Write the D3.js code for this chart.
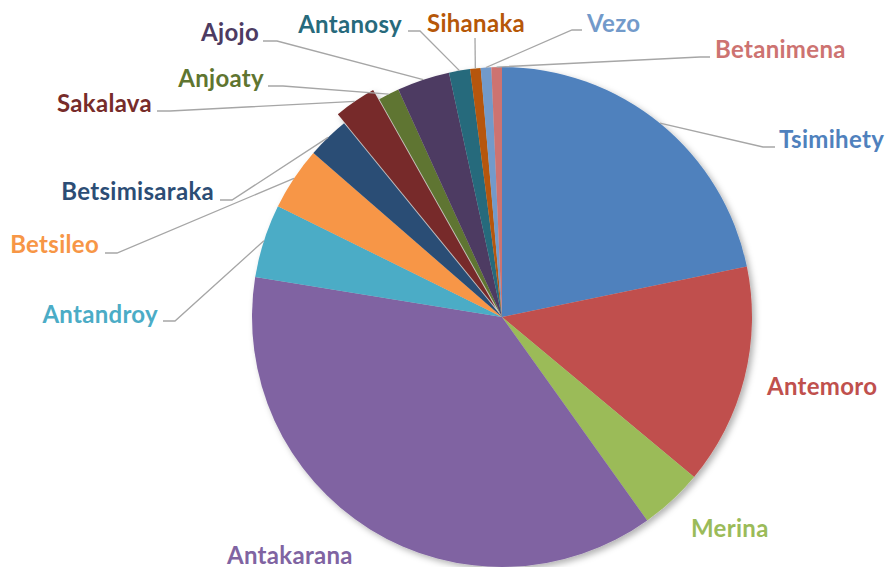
<!DOCTYPE html>
<html>
<head>
<meta charset="utf-8">
<script src="https://cdn.jsdelivr.net/npm/d3@7"></script>
<style>
  html, body { margin: 0; padding: 0; background: #fff; }
  svg { display: block; }
  .lbl { font-family: Lato, "Open Sans", sans-serif; font-weight: 700; font-size: 24px; letter-spacing: 0.3px; }
</style>
</head>
<body>
<div id="chart"></div>
<script>
// ethnic groups, clockwise from 12 o'clock
const categories = ["Tsimihety", "Antemoro", "Merina", "Antakarana", "Antandroy", "Betsileo",
  "Betsimisaraka", "Sakalava", "Anjoaty", "Ajojo", "Antanosy", "Sihanaka", "Vezo", "Betanimena"];
const values = [32, 21, 6, 55, 7, 6, 4, 4, 2, 5, 2, 1, 1, 1];
const colors = ["#4F81BD", "#C0504D", "#9BBB59", "#8064A2", "#4BACC6", "#F79646",
  "#2C4D75", "#772C2A", "#5F7530", "#4D3B62", "#276A7C", "#B65708", "#729ACA", "#CD7371"];
const exploded = ["Sakalava"];

// where Excel put each label (baseline) and the leader line elbow
const labelLayout = {
  Tsimihety:     { x: 779, y: 148, anchor: "start", elbow: [763, 147], end: 775 },
  Antemoro:      { x: 767, y: 395, anchor: "start" },
  Merina:        { x: 691, y: 537, anchor: "start" },
  Antakarana:    { x: 227, y: 564, anchor: "start" },
  Antandroy:     { x: 158, y: 323, anchor: "end", elbow: [175, 321], end: 163 },
  Betsileo:      { x: 99,  y: 253, anchor: "end", elbow: [117, 253], end: 105 },
  Betsimisaraka: { x: 214, y: 200, anchor: "end", elbow: [232, 200], end: 220 },
  Sakalava:      { x: 152, y: 112, anchor: "end", elbow: [170, 111], end: 157 },
  Anjoaty:       { x: 264, y: 87,  anchor: "end", elbow: [283, 86], end: 268 },
  Ajojo:         { x: 259, y: 41,  anchor: "end", elbow: [277, 41], end: 263 },
  Antanosy:      { x: 402, y: 33,  anchor: "end", elbow: [420, 31], end: 408 },
  Sihanaka:      { x: 476, y: 32,  anchor: "middle", elbow: [475, 38], end: 475 },
  Vezo:          { x: 587, y: 32,  anchor: "start", elbow: [572, 30], end: 582 },
  Betanimena:    { x: 715, y: 58,  anchor: "start", elbow: [700, 57], end: 710 }
};

var width = 889, height = 567;
var cx = 502, cy = 317, radius = 250, explode = 11;

var svg = d3.select("#chart")
  .append("svg")
    .attr("width", width)
    .attr("height", height);

var defs = svg.append("defs");
var shadow = defs.append("filter").attr("id", "shadow")
  .attr("x", "-10%").attr("y", "-10%").attr("width", "130%").attr("height", "130%");
shadow.append("feDropShadow")
  .attr("dx", 3).attr("dy", 3).attr("stdDeviation", 3)
  .attr("flood-color", "#000").attr("flood-opacity", 0.3);

var data = categories.map(function(c, i) { return { name: c, value: values[i], color: colors[i] }; });

var pie = d3.pie().sort(null).value(function(d) { return d.value; });
var arc = d3.arc().innerRadius(0).outerRadius(radius);
var arcs = pie(data);

function offset(d) {
  if (exploded.indexOf(d.data.name) < 0) return [0, 0];
  var a = (d.startAngle + d.endAngle) / 2;
  return [Math.sin(a) * explode, -Math.cos(a) * explode];
}

var g = svg.append("g")
  .attr("transform", "translate(" + cx + "," + cy + ")")
  .attr("filter", "url(#shadow)");

g.selectAll("path")
  .data(arcs)
  .enter()
  .append("path")
    .attr("d", arc)
    .attr("fill", function(d) { return d.data.color; })
    .attr("transform", function(d) { var o = offset(d); return "translate(" + o[0] + "," + o[1] + ")"; });

// leader lines
var lines = svg.append("g");
arcs.forEach(function(d) {
  var L = labelLayout[d.data.name];
  if (!L || !L.elbow) return;
  var a = (d.startAngle + d.endAngle) / 2;
  var o = offset(d);
  var p0 = [cx + o[0] + Math.sin(a) * radius, cy + o[1] - Math.cos(a) * radius];
  var pts = [p0, L.elbow, [L.end, L.elbow[1]]];
  lines.append("path")
    .attr("d", d3.line()(pts))
    .attr("fill", "none")
    .attr("stroke", "#A6A6A6")
    .attr("stroke-width", 1.3);
});

svg.append("g")
  .selectAll("text")
  .data(arcs)
  .enter()
  .append("text")
    .attr("class", "lbl")
    .attr("x", function(d) { return labelLayout[d.data.name].x; })
    .attr("y", function(d) { return labelLayout[d.data.name].y; })
    .attr("text-anchor", function(d) { return labelLayout[d.data.name].anchor; })
    .attr("fill", function(d) { return d.data.color; })
    .text(function(d) { return d.data.name; });
</script>
</body>
</html>
